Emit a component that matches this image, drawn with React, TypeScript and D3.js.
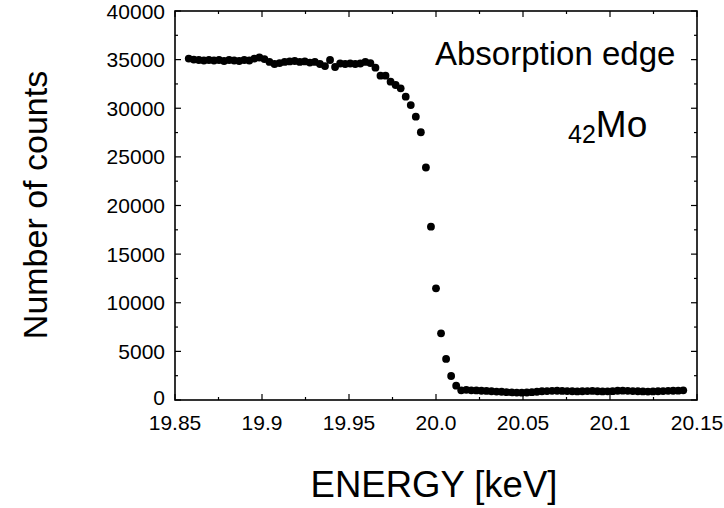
import React, { useEffect, useRef } from 'react';
import * as d3 from 'd3';

// measured energies [keV]
const energies = [
  19.8579, 19.8608, 19.8637, 19.8666, 19.8695, 19.8724, 19.8753, 19.8782, 19.8811, 19.884,
  19.8869, 19.8898, 19.8927, 19.8956, 19.8985, 19.9014, 19.9043, 19.9072, 19.9101, 19.913,
  19.9159, 19.9188, 19.9217, 19.9246, 19.9275, 19.9304, 19.9333, 19.9362, 19.9391, 19.942,
  19.9449, 19.9478, 19.9507, 19.9536, 19.9565, 19.9594, 19.9623, 19.9652, 19.9681, 19.971,
  19.9739, 19.9768, 19.9797, 19.9826, 19.9855, 19.9884, 19.9913, 19.9942, 19.9971, 20.0,
  20.0029, 20.0058, 20.0087, 20.0116, 20.0145, 20.0174, 20.0203, 20.0232, 20.0261, 20.029,
  20.0319, 20.0348, 20.0377, 20.0406, 20.0435, 20.0464, 20.0493, 20.0522, 20.0551, 20.058,
  20.0609, 20.0638, 20.0667, 20.0696, 20.0725, 20.0754, 20.0783, 20.0812, 20.0841, 20.087,
  20.0899, 20.0928, 20.0957, 20.0986, 20.1015, 20.1044, 20.1073, 20.1102, 20.1131, 20.116,
  20.1189, 20.1218, 20.1247, 20.1276, 20.1305, 20.1334, 20.1363, 20.1392, 20.1421
];

const counts = [
  35110, 35010, 34960, 34910, 34960, 34910, 34960, 34860, 34960, 34910,
  34860, 34960, 34910, 35110, 35220, 35060, 34760, 34550, 34650, 34760,
  34810, 34860, 34760, 34810, 34700, 34760, 34550, 34340, 34960, 34240,
  34600, 34550, 34600, 34550, 34600, 34760, 34650, 34170, 33350, 33350,
  32730, 32390, 32050, 31190, 30330, 29130, 27530, 23910, 17820, 11480,
  6860, 4220, 2470, 1470, 1000, 1050, 1000, 980, 950, 930,
  900, 870, 850, 800, 780, 760, 750, 770, 800, 850,
  900, 920, 940, 950, 930, 920, 900, 880, 900, 920,
  930, 900, 880, 890, 910, 950, 960, 940, 920, 900,
  880, 870, 880, 900, 920, 940, 950, 960, 1000
];

const xTicks = [19.85, 19.9, 19.95, 20.0, 20.05, 20.1, 20.15];
const xTickLabels = ['19.85', '19.9', '19.95', '20.0', '20.05', '20.1', '20.15'];
const yTicks = [0, 5000, 10000, 15000, 20000, 25000, 30000, 35000, 40000];

const FONT = '"Liberation Sans", Arial, Helvetica, sans-serif';

const App = () => {
  const svgRef = useRef<SVGSVGElement>(null);

  useEffect(() => {
    document.body.style.margin = '0';
    const svg = d3.select(svgRef.current);
    svg.selectAll('*').remove();

    const left = 175, right = 697, top = 11, bottom = 400;

    const x = d3.scaleLinear().domain([19.85, 20.15]).range([left, right]);
    const y = d3.scaleLinear().domain([0, 40000]).range([bottom, top]);

    const g = svg.append('g');

    // minor + major ticks, drawn inward on all four sides
    const xMinor = d3.range(0, 13).map(i => 19.85 + i * 0.025);
    const yMinor = d3.range(0, 17).map(i => i * 2500);

    xMinor.forEach((v, i) => {
      const len = i % 2 === 0 ? 6 : 3;
      g.append('line').attr('x1', x(v)).attr('x2', x(v)).attr('y1', bottom).attr('y2', bottom - len)
        .attr('stroke', '#000').attr('stroke-width', 1.2);
      g.append('line').attr('x1', x(v)).attr('x2', x(v)).attr('y1', top).attr('y2', top + len)
        .attr('stroke', '#000').attr('stroke-width', 1.2);
    });
    yMinor.forEach((v, i) => {
      const len = i % 2 === 0 ? 6 : 3;
      g.append('line').attr('x1', left).attr('x2', left + len).attr('y1', y(v)).attr('y2', y(v))
        .attr('stroke', '#000').attr('stroke-width', 1.2);
      g.append('line').attr('x1', right).attr('x2', right - len).attr('y1', y(v)).attr('y2', y(v))
        .attr('stroke', '#000').attr('stroke-width', 1.2);
    });

    // frame
    g.append('rect')
      .attr('x', left).attr('y', top)
      .attr('width', right - left).attr('height', bottom - top)
      .attr('fill', 'none').attr('stroke', '#000').attr('stroke-width', 1.6);

    // tick labels
    g.selectAll('.xlab')
      .data(xTicks)
      .enter()
      .append('text')
      .attr('x', d => x(d))
      .attr('y', 430)
      .attr('text-anchor', 'middle')
      .style('font-family', FONT)
      .style('font-size', '21px')
      .text((d, i) => xTickLabels[i]);

    // the "0" label sits a little above its tick, clear of "19.85"
    g.selectAll('.ylab')
      .data(yTicks)
      .enter()
      .append('text')
      .attr('x', 165)
      .attr('y', d => (d === 0 ? y(d) - 3 : y(d)))
      .attr('dy', '0.36em')
      .attr('text-anchor', 'end')
      .style('font-family', FONT)
      .style('font-size', '21px')
      .text(d => String(d));

    // data points
    g.selectAll('.pt')
      .data(energies)
      .enter()
      .append('circle')
      .attr('cx', d => x(d))
      .attr('cy', (d, i) => y(counts[i]))
      .attr('r', 3.9)
      .attr('fill', '#000');

    // axis titles
    svg.append('text')
      .attr('transform', 'translate(47,205) rotate(-90)')
      .attr('text-anchor', 'middle')
      .style('font-family', FONT)
      .style('font-size', '34px')
      .text('Number of counts');

    svg.append('text')
      .attr('x', 434)
      .attr('y', 497)
      .attr('text-anchor', 'middle')
      .style('font-family', FONT)
      .style('font-size', '36.5px')
      .text('ENERGY [keV]');

    // annotations
    svg.append('text')
      .attr('x', 435)
      .attr('y', 65)
      .style('font-family', FONT)
      .style('font-size', '33px')
      .text('Absorption edge');

    const mo = svg.append('text')
      .attr('x', 568)
      .attr('y', 137)
      .style('font-family', FONT)
      .style('font-size', '37px');
    mo.append('tspan').attr('dy', 6).style('font-size', '25px').text('42');
    mo.append('tspan').attr('dy', -6).text('Mo');
  }, []);

  return <svg ref={svgRef} width={724} height={508} style={{ display: 'block', background: '#fff' }} />;
};

export default App;
